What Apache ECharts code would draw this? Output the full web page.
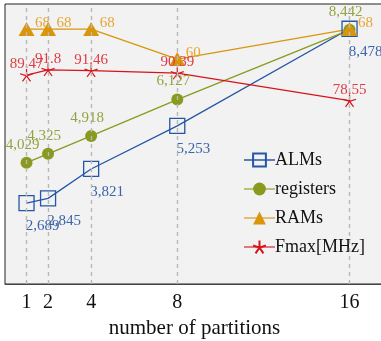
<!DOCTYPE html>
<html>
<head>
<meta charset="utf-8">
<script src="https://cdn.jsdelivr.net/npm/echarts@6/dist/echarts.min.js"></script>
<style>
  html, body { margin: 0; padding: 0; background: #fff; }
  #chart { width: 381px; height: 341px; }
</style>
</head>
<body>
<div id="chart"></div>
<script>
const partitions = [1, 2, 4, 8, 16];
const alms = [2689, 2845, 3821, 5253, 8478];
const registers = [4029, 4325, 4918, 6127, 8442];
const rams = [68, 68, 68, 60, 68];
const fmax = [89.47, 91.8, 91.46, 90.39, 78.55];

const serif = "Liberation Serif";
const starPath = "path://M0,-1L0,0M0.951,-0.309L0,0M0.588,0.809L0,0M-0.588,0.809L0,0M-0.951,-0.309L0,0";

function pairs(vals) {
  return partitions.map((p, i) => [p, vals[i]]);
}

function fmtThousands(v) {
  return v.toLocaleString("en-US");
}

let chart = echarts.init(document.getElementById("chart"));

const option = {
  animation: false,
  grid: {
    left: 5,
    right: -3,
    top: 4,
    bottom: 57,
    outerBoundsMode: "none",
    show: true,
    backgroundColor: "#f2f2f2",
    borderColor: "#222",
    borderWidth: 1,
  },
  legend: {
    orient: "vertical",
    left: 238,
    top: 146,
    itemWidth: 31,
    itemHeight: 16,
    itemGap: 11,
    textStyle: { fontFamily: serif, fontSize: 18, color: "#111", padding: [0, 0, 0, -5] },
    data: [
      { name: "ALMs", lineStyle: { opacity: 0.75 } },
      { name: "registers", lineStyle: { opacity: 0.55 } },
      { name: "RAMs", lineStyle: { opacity: 0.55 } },
      { name: "Fmax[MHz]", lineStyle: { opacity: 0.55 } },
    ],
  },
  xAxis: {
    type: "value",
    min: 0,
    max: 17.6,
    name: "number of partitions",
    nameLocation: "middle",
    nameGap: 34,
    nameTextStyle: { fontFamily: serif, fontSize: 21, color: "#111" },
    axisLine: { show: true, lineStyle: { color: "#444", width: 1 } },
    axisTick: {
      show: true,
      inside: true,
      length: 4,
      customValues: partitions,
      lineStyle: { color: "#555" },
    },
    axisLabel: {
      customValues: partitions,
      fontFamily: serif,
      fontSize: 20,
      color: "#111",
      margin: 9,
    },
    splitLine: { show: false },
  },
  yAxis: [
    { type: "value", min: 0, max: 9300, show: false },
    { type: "value", min: 0, max: 74.7, show: false },
    { type: "value", min: 0, max: 120, show: false },
  ],
  series: [
    {
      // vertical dashed grid lines at each tick
      type: "line",
      data: [],
      z: 1,
      silent: true,
      markLine: {
        silent: true,
        symbol: "none",
        label: { show: false },
        lineStyle: { color: "#b8b8b8", type: [4, 4], width: 1.4 },
        data: partitions.map((p) => ({ xAxis: p })),
      },
    },
    {
      name: "ALMs",
      type: "line",
      yAxisIndex: 0,
      z: 3,
      data: pairs(alms),
      symbol: "rect",
      symbolSize: 15,
      lineStyle: { color: "#2456a5", width: 1.3 },
      itemStyle: { color: "rgba(0,0,0,0)", borderColor: "#2456a5", borderWidth: 1.3 },
      label: {
        show: true,
        position: "inside",
        offset: [16, 23],
        formatter: (p) => fmtThousands(p.data[1]),
        fontFamily: serif,
        fontSize: 15,
        color: "#3c64aa",
      },
    },
    {
      name: "registers",
      type: "line",
      yAxisIndex: 0,
      z: 3,
      data: pairs(registers),
      symbol: "circle",
      symbolSize: 12,
      lineStyle: { color: "#8a9a1e", width: 1.3 },
      itemStyle: { color: "#8a9a1e", borderWidth: 0 },
      label: {
        show: true,
        position: "inside",
        offset: [-4, -18],
        formatter: (p) => fmtThousands(p.data[1]),
        fontFamily: serif,
        fontSize: 15,
        color: "#96a240",
      },
    },
    {
      name: "RAMs",
      type: "line",
      yAxisIndex: 1,
      z: 3,
      data: pairs(rams),
      symbol: "triangle",
      symbolSize: [16, 14],
      lineStyle: { color: "#d9960b", width: 1.3 },
      itemStyle: { color: "#d9960b", borderWidth: 0 },
      label: {
        show: true,
        position: "inside",
        offset: [16, -6],
        formatter: (p) => String(p.data[1]),
        fontFamily: serif,
        fontSize: 15,
        color: "#e6a635",
      },
    },
    {
      name: "Fmax[MHz]",
      type: "line",
      yAxisIndex: 2,
      z: 3,
      data: pairs(fmax),
      symbol: starPath,
      symbolSize: 13,
      symbolKeepAspect: true,
      lineStyle: { color: "#d7141c", width: 1.3 },
      itemStyle: { color: "rgba(0,0,0,0)", borderColor: "#d7141c", borderWidth: 1.2 },
      label: {
        show: true,
        position: "inside",
        offset: [0, -11],
        formatter: (p) => String(p.data[1]),
        fontFamily: serif,
        fontSize: 15,
        color: "#de3c46",
      },
    },
  ],
};

chart.setOption(option);
</script>
</body>
</html>
